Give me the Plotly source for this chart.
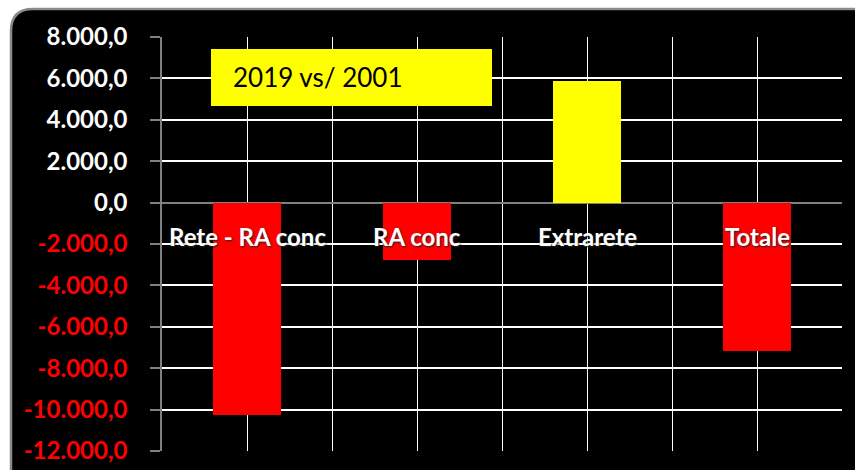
import plotly.graph_objects as go

# ---- data ----
categories = ["Rete - RA conc", "RA conc", "Extrarete", "Totale"]
values = [-10250, -2790, 5890, -7150]
bar_colors = ["#FF0000", "#FF0000", "#FFFF00", "#FF0000"]
y_ticks = [8000, 6000, 4000, 2000, 0, -2000, -4000, -6000, -8000, -10000, -12000]
title_text = "2019 vs/ 2001"

W, H = 855, 470
ML, MT = 162, 37
PW, PH = 680, 414
MR, MB = W - ML - PW, H - MT - PH


def px(x):  # screen x -> paper
    return (x - ML) / PW


def py(y):  # screen y -> paper
    return (H - MB - y) / PH


def fmt(v):
    s = f"{abs(v):,.1f}".replace(",", "X").replace(".", ",").replace("X", ".")
    if v < 0:
        return f"<span style='color:#FF0000'>-{s}</span>"
    return s


xpos = list(range(len(categories)))

fig = go.Figure()
fig.add_trace(go.Bar(
    x=xpos, y=values, width=0.4, marker=dict(color=bar_colors, line=dict(width=0)),
    hoverinfo="skip",
))

# outer rounded frame (screen coords)
x0, x1, y0, y1, r = 11, 880, 9, 495, 22
path = (f"M {px(x0)},{py(y0 + r)} Q {px(x0)},{py(y0)} {px(x0 + r)},{py(y0)} "
        f"L {px(x1 - r)},{py(y0)} Q {px(x1)},{py(y0)} {px(x1)},{py(y0 + r)} "
        f"L {px(x1)},{py(y1 - r)} Q {px(x1)},{py(y1)} {px(x1 - r)},{py(y1)} "
        f"L {px(x0 + r)},{py(y1)} Q {px(x0)},{py(y1)} {px(x0)},{py(y1 - r)} Z")
fig.add_shape(type="path", path=path, xref="paper", yref="paper", layer="below",
              fillcolor="black", line=dict(color="#8a8a8a", width=2.5))

# title box
fig.add_shape(type="rect", xref="paper", yref="paper",
              x0=px(211), x1=px(492), y0=py(106), y1=py(49),
              fillcolor="#FFFF00", line=dict(width=0), layer="above")
fig.add_annotation(text=title_text, xref="paper", yref="paper", x=px(231), y=py(77),
                   xanchor="left", yanchor="middle", showarrow=False,
                   font=dict(family="Lato", size=26, color="black"))

# category labels
for i, c in enumerate(categories):
    fig.add_annotation(text=c, x=xpos[i], y=-1660, xref="x", yref="y",
                       showarrow=False, xanchor="center", yanchor="middle",
                       font=dict(family="Lato", size=24, color="white", weight="bold",
                                 shadow="1px 1px 2px #222"))

fig.update_layout(
    width=W, height=H,
    margin=dict(l=ML, r=MR, t=MT, b=MB, pad=0, autoexpand=False),
    paper_bgcolor="white", plot_bgcolor="black",
    showlegend=False,
    bargap=0,
    xaxis=dict(range=[-0.5, 3.5], tickmode="linear", tick0=-0.5, dtick=0.5,
               showticklabels=False, ticks="", showgrid=True, gridcolor="white",
               gridwidth=1, zeroline=False, showline=False, fixedrange=True,
               automargin=False),
    yaxis=dict(range=[-12000, 8000], tickmode="array", tickvals=y_ticks,
               ticktext=[fmt(v) for v in y_ticks], showgrid=True, gridcolor="white",
               gridwidth=1.5, zeroline=True, zerolinecolor="#808080", zerolinewidth=2,
               showline=True, linecolor="#808080", linewidth=1.5,
               ticks="outside", ticklen=10, tickcolor="#808080", tickwidth=1.5,
               ticklabelstandoff=18, automargin=False,
               tickfont=dict(family="Lato", size=24, color="white", weight="bold"),
               fixedrange=True),
)

fig.write_html("out.html", config={"displayModeBar": False},
               post_script="document.body.style.margin='0';document.body.style.overflow='hidden';")
